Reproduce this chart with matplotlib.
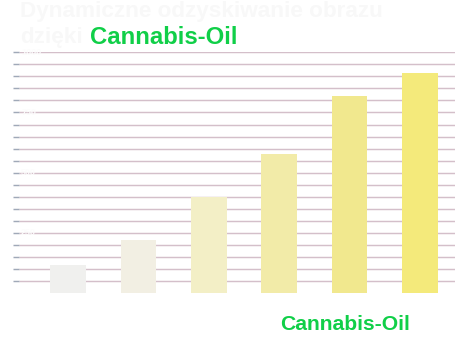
import matplotlib.pyplot as plt

# ============================
# Cannabis-Oil bar chart
# ============================

plt.rcParams['font.family'] = ['Liberation Sans', 'DejaVu Sans']

# Data
categories = ["1", "2", "3", "4", "5", "6"]
values = [117, 221, 400, 579, 817, 912]
bar_colors = ["#f0f0ee", "#f2efe3", "#f3efc6", "#f2eba8", "#f1e88e", "#f4ea7b"]
grid_values = list(range(50, 1001, 50))
label_values = [250, 500, 750, 1000]

fig = plt.figure(figsize=(4.72, 3.43), dpi=100)
ax = fig.add_axes([19 / 472, 50 / 343, 436 / 472, 240.7 / 343])

# Horizontal grid lines drawn as ticks + hlines
ax.set_ylim(0, 1000)
ax.set_xlim(-0.70, 5.5)
ax.hlines(grid_values, -0.70, 5.5, colors="#d4bfca", linewidth=1.05, zorder=0)

ax.bar(range(len(categories)), values, width=0.51, color=bar_colors, zorder=2)

ax.set_yticks(grid_values)
ax.set_yticklabels([])
ax.tick_params(axis="y", length=4.3, width=1.05, color="#a0a9b8", direction="out")
ax.set_xticks(range(len(categories)))
ax.set_xticklabels(categories, color="white")
ax.tick_params(axis="x", length=0)

for spine in ax.spines.values():
    spine.set_visible(False)

# Nearly invisible value labels
for v in label_values:
    ax.text(0.005, v, str(v), transform=ax.get_yaxis_transform(), color="#fcfcfc",
            fontsize=6.5, fontweight="bold", va="center", ha="left", zorder=3)

# Faint title behind the green brand text
fig.text(20 / 472, 1 - 12 / 343, "Dynamiczne odzyskiwanie obrazu", color="#f8f8f8",
         fontsize=16.2, fontweight="bold", va="center", ha="left")
fig.text(20 / 472, 1 - 37 / 343, "dzięki", color="#f8f8f8",
         fontsize=16.2, fontweight="bold", va="center", ha="left")

fig.text(90 / 472, 1 - 38 / 343, "Cannabis-Oil", color="#10cf48",
         fontsize=17.2, fontweight="bold", va="center", ha="left")
fig.text(280 / 472, 1 - 325 / 343, "Cannabis-Oil", color="#10cf48",
         fontsize=15.2, fontweight="bold", va="center", ha="left")

fig.savefig("out.png", dpi=100, facecolor="white")
